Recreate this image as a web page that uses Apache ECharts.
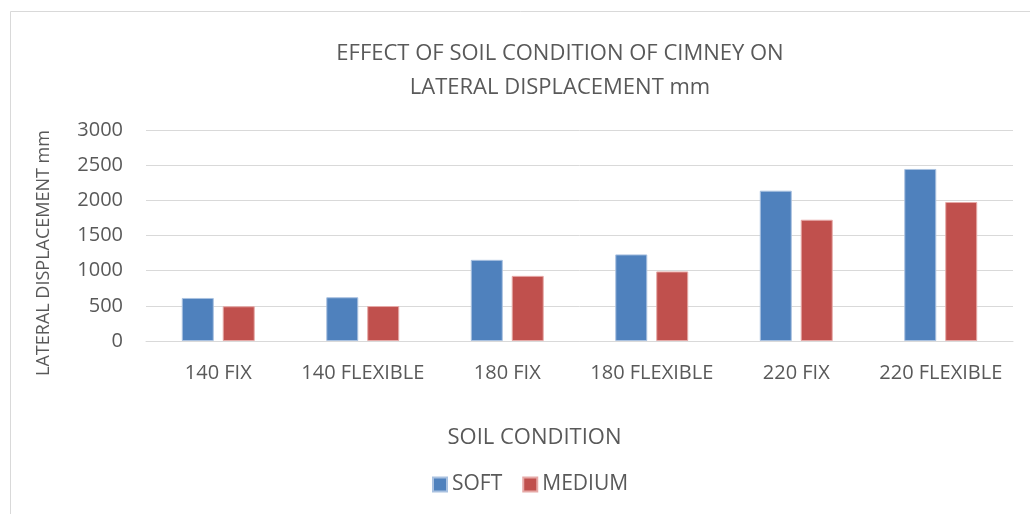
<!DOCTYPE html>
<html>
<head>
<meta charset="utf-8">
<script src="https://cdn.jsdelivr.net/npm/echarts@6/dist/echarts.min.js"></script>
<style>
  html, body { margin: 0; padding: 0; background: #fff; }
  #chart { width: 1030px; height: 514px; }
</style>
</head>
<body>
<div id="chart"></div>
<script>
const categories = ['140 FIX', '140 FLEXIBLE', '180 FIX', '180 FLEXIBLE', '220 FIX', '220 FLEXIBLE'];
const softValues = [612, 622, 1154, 1231, 2137, 2446];
const mediumValues = [494, 497, 926, 989, 1724, 1976];
const yTicks = [0, 500, 1000, 1500, 2000, 2500, 3000];

const font = 'Open Sans, Liberation Sans, sans-serif';
const textColor = '#595959';

const chart = echarts.init(document.getElementById('chart'), null, { renderer: 'canvas' });

const option = {
  backgroundColor: '#fff',
  animation: false,
  title: {
    text: 'EFFECT OF SOIL CONDITION OF CIMNEY ON\nLATERAL DISPLACEMENT mm',
    left: 555,
    top: 32,
    textAlign: 'center',
    textStyle: { fontFamily: font, fontSize: 22, fontWeight: 'normal', color: textColor, lineHeight: 34 }
  },
  graphic: [{
    type: 'rect',
    shape: { x: 10.5, y: 11.5, width: 1040, height: 520 },
    style: { fill: 'none', stroke: '#d9d9d9', lineWidth: 1 },
    silent: true
  }],
  legend: {
    data: ['SOFT', 'MEDIUM'],
    left: 427,
    top: 469,
    itemWidth: 14,
    itemHeight: 14,
    itemGap: 20,
    icon: 'rect',
    textStyle: { fontFamily: font, fontSize: 21, color: textColor }
  },
  grid: { left: 146, right: 17, top: 130, bottom: 173 },
  xAxis: {
    type: 'category',
    data: categories,
    name: 'SOIL CONDITION',
    nameLocation: 'middle',
    nameGap: 86,
    nameTextStyle: { fontFamily: font, fontSize: 22, color: textColor, padding: [0, 90, 0, 0] },
    axisLine: { lineStyle: { color: '#d9d9d9', width: 1 } },
    axisTick: { show: false },
    axisLabel: { fontFamily: font, fontSize: 20, color: textColor, margin: 22, interval: 0 }
  },
  yAxis: {
    type: 'value',
    min: yTicks[0],
    max: yTicks[yTicks.length - 1],
    interval: 500,
    name: 'LATERAL DISPLACEMENT mm',
    nameLocation: 'middle',
    nameGap: 93,
    nameTextStyle: { fontFamily: font, fontSize: 18, color: textColor, padding: [0, 35, 0, 0] },
    axisLine: { show: false },
    axisTick: { show: false },
    axisLabel: { fontFamily: font, fontSize: 20, color: textColor, margin: 23, formatter: v => String(v) },
    splitLine: { lineStyle: { color: '#d9d9d9', width: 1 } }
  },
  series: [
    {
      name: 'SOFT',
      type: 'bar',
      data: softValues,
      barWidth: 32,
      barGap: '28%',
      itemStyle: { color: '#4f81bd', borderColor: '#a9c1e0', borderWidth: 1 }
    },
    {
      name: 'MEDIUM',
      type: 'bar',
      data: mediumValues,
      barWidth: 32,
      itemStyle: { color: '#c0504d', borderColor: '#e6a9a7', borderWidth: 1 }
    }
  ]
};

chart.setOption(option);
</script>
</body>
</html>
